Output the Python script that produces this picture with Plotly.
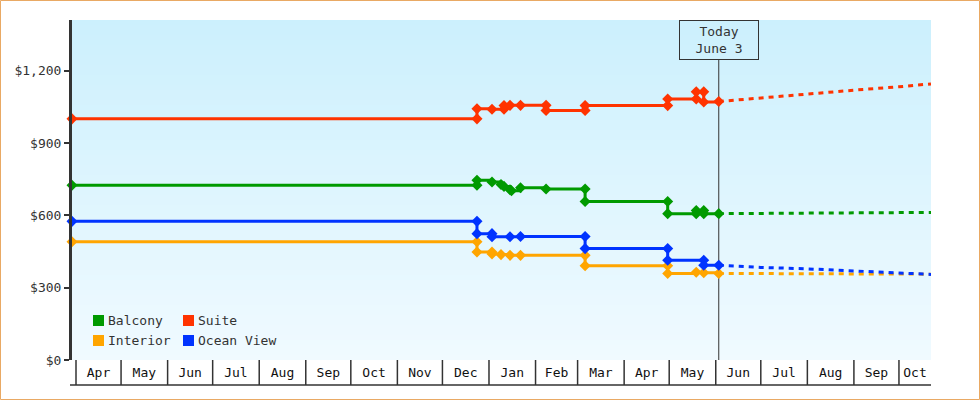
import plotly.graph_objects as go
import pandas as pd

FONT = "DejaVu Sans Mono"

# ---------------- data ----------------
x_start = "2024-03-29 08:00"
x_end = "2025-10-22 08:00"
today = "2025-06-03"
today_label = "Today<br>June 3"

month_labels = ["Apr", "May", "Jun", "Jul", "Aug", "Sep", "Oct", "Nov", "Dec",
                "Jan", "Feb", "Mar", "Apr", "May", "Jun", "Jul", "Aug", "Sep", "Oct"]

y_tick_vals = [0, 300, 600, 900, 1200]
y_tick_labels = ["$0", "$300", "$600", "$900", "$1,200"]

series_names = ["Balcony", "Suite", "Interior", "Ocean View"]
series_colors = ["#009a00", "#ff3300", "#ffa500", "#0033ff"]

balcony_dates = [x_start, "2024-12-24", "2024-12-24", "2025-01-03", "2025-01-09", "2025-01-11",
                 "2025-01-15", "2025-01-16", "2025-01-22", "2025-02-08", "2025-03-06", "2025-03-06",
                 "2025-04-30", "2025-04-30", "2025-05-19", "2025-05-19", "2025-05-24", "2025-05-24",
                 "2025-06-03"]
balcony_prices = [725, 725, 745, 738, 728, 720, 706, 702, 714, 709, 709, 657,
                  657, 607, 607, 620, 620, 607, 607]

suite_dates = [x_start, "2024-12-24", "2024-12-24", "2025-01-03", "2025-01-11", "2025-01-11",
               "2025-01-15", "2025-01-22", "2025-02-08", "2025-02-08", "2025-03-06", "2025-03-06",
               "2025-04-30", "2025-04-30", "2025-05-19", "2025-05-19", "2025-05-24", "2025-05-24",
               "2025-06-03"]
suite_prices = [1000, 1000, 1042, 1040, 1040, 1055, 1056, 1056, 1056, 1035, 1035, 1055,
                1055, 1082, 1082, 1112, 1112, 1070, 1072]

interior_dates = [x_start, "2024-12-24", "2024-12-24", "2025-01-03", "2025-01-03", "2025-01-09",
                  "2025-01-15", "2025-01-22", "2025-03-06", "2025-03-06", "2025-04-30", "2025-04-30",
                  "2025-05-19", "2025-05-24", "2025-06-03"]
interior_prices = [490, 490, 448, 448, 440, 437, 434, 434, 434, 391, 391, 359,
                   364, 362, 359]

ocean_dates = [x_start, "2024-12-24", "2024-12-24", "2025-01-03", "2025-01-03", "2025-01-15",
               "2025-01-22", "2025-03-06", "2025-03-06", "2025-04-30", "2025-04-30", "2025-05-24",
               "2025-05-24", "2025-06-03"]
ocean_prices = [575, 575, 524, 524, 511, 511, 512, 512, 462, 462, 414, 414, 393, 393]

proj_dates = ["2025-06-03", "2025-07-01", "2025-08-01", "2025-09-01", "2025-10-01", x_end]
balcony_proj = [607, 608, 608, 611, 612, 612]
suite_proj = [1072, 1087, 1103, 1119, 1133, 1145]
interior_proj = [359, 358, 358, 357, 356, 356]
ocean_proj = [393, 384, 378, 370, 360, 355]

# ---------------- figure ----------------
W, H = 980, 400
ML, MR, MT, MB = 72, 49, 20, 40
PW, PH = W - ML - MR, H - MT - MB


def px_x(p):  # page pixel -> paper x
    return (p - ML) / PW


def px_y(p):  # page pixel -> paper y
    return (H - MB - p) / PH


fig = go.Figure()

hist = {
    "Interior": (interior_dates, interior_prices, interior_proj),
    "Ocean View": (ocean_dates, ocean_prices, ocean_proj),
    "Balcony": (balcony_dates, balcony_prices, balcony_proj),
    "Suite": (suite_dates, suite_prices, suite_proj),
}
color_of = dict(zip(series_names, series_colors))

for name in ["Interior", "Ocean View", "Balcony", "Suite"]:
    d, p, pr = hist[name]
    c = color_of[name]
    fig.add_trace(go.Scatter(x=proj_dates, y=pr, mode="lines", name=name,
                             line=dict(color=c, width=3, dash="5px,5px"),
                             showlegend=False, hoverinfo="skip"))
    fig.add_trace(go.Scatter(x=d, y=p, mode="lines+markers", name=name,
                             line=dict(color=c, width=3, shape="hv"),
                             marker=dict(symbol="diamond", size=8.5, color=c),
                             cliponaxis=False, showlegend=False))

shapes = []
# gradient background
N = 68
top = (204, 240, 253)
bot = (240, 250, 255)
for i in range(N):
    t = i / (N - 1)
    col = tuple(round(bot[k] + (top[k] - bot[k]) * t) for k in range(3))
    shapes.append(dict(type="rect", xref="paper", yref="paper", x0=0, x1=1,
                       y0=i / N, y1=(i + 1) / N, fillcolor="rgb(%d,%d,%d)" % col,
                       line=dict(width=0), layer="below"))

# month cell dividers
bounds = list(pd.date_range("2024-04-01", "2025-10-01", freq="MS"))
for b in bounds:
    shapes.append(dict(type="line", xref="x", yref="paper", x0=b, x1=b,
                       y0=px_y(385), y1=0, line=dict(color="#333333", width=1.5)))
shapes.append(dict(type="line", xref="paper", yref="paper", x0=px_x(70), x1=1,
                   y0=px_y(385), y1=px_y(385), line=dict(color="#333333", width=1.5)))

# today line
shapes.append(dict(type="line", xref="x", yref="paper", x0=today, x1=today,
                   y0=0, y1=px_y(60), line=dict(color="#333333", width=1), layer="below"))

# outer border
shapes.append(dict(type="rect", xref="paper", yref="paper",
                   x0=px_x(0.5), x1=px_x(W - 0.5), y0=px_y(H - 0.5), y1=px_y(0.5),
                   line=dict(color="#e9a964", width=1), fillcolor="rgba(0,0,0,0)"))

# legend squares + texts
legend_pos = [(93, 315), (183, 315), (93, 335), (183, 335)]
annotations = []
for (lx, ly), name, c in zip(legend_pos, series_names, series_colors):
    shapes.append(dict(type="rect", xref="paper", yref="paper",
                       x0=px_x(lx), x1=px_x(lx + 11), y0=px_y(ly + 11), y1=px_y(ly),
                       fillcolor=c, line=dict(width=0)))
    annotations.append(dict(text=name, xref="paper", yref="paper", x=px_x(lx + 13),
                            y=px_y(ly + 5.5), xanchor="left", yanchor="middle",
                            showarrow=False, font=dict(family=FONT, size=13, color="#333333")))

annotations.append(dict(text=today_label, xref="x", yref="paper", x=today, y=1,
                        xanchor="center", yanchor="top", showarrow=False,
                        width=76, height=36, borderpad=1, borderwidth=1,
                        bordercolor="#333333", bgcolor="rgba(0,0,0,0)",
                        font=dict(family=FONT, size=13, color="#333333")))

# month tick positions: middle of the visible part of each month
ends = bounds[1:] + [pd.Timestamp(x_end)]
tick_pos = [a + (e - a) / 2 for a, e in zip(bounds, ends)]

fig.update_layout(
    width=W, height=H,
    margin=dict(l=ML, r=MR, t=MT, b=MB, pad=0),
    paper_bgcolor="white", plot_bgcolor="rgb(240,250,255)",
    showlegend=False,
    shapes=shapes, annotations=annotations,
    font=dict(family=FONT, size=13, color="#333333"),
    xaxis=dict(type="date", range=[x_start, x_end], showgrid=False, zeroline=False,
               showline=False, tickvals=tick_pos, ticktext=month_labels,
               ticks="", ticklabelstandoff=3,
               tickfont=dict(family=FONT, size=13, color="#111111")),
    yaxis=dict(range=[0, 1410], showgrid=False, zeroline=False, showline=True,
               linewidth=3, linecolor="#333333", ticks="outside", ticklen=5,
               tickwidth=2, tickcolor="#333333", tickvals=y_tick_vals,
               ticktext=y_tick_labels,
               tickfont=dict(family=FONT, size=13, color="#333333")),
)

fig.write_html("out.html")
